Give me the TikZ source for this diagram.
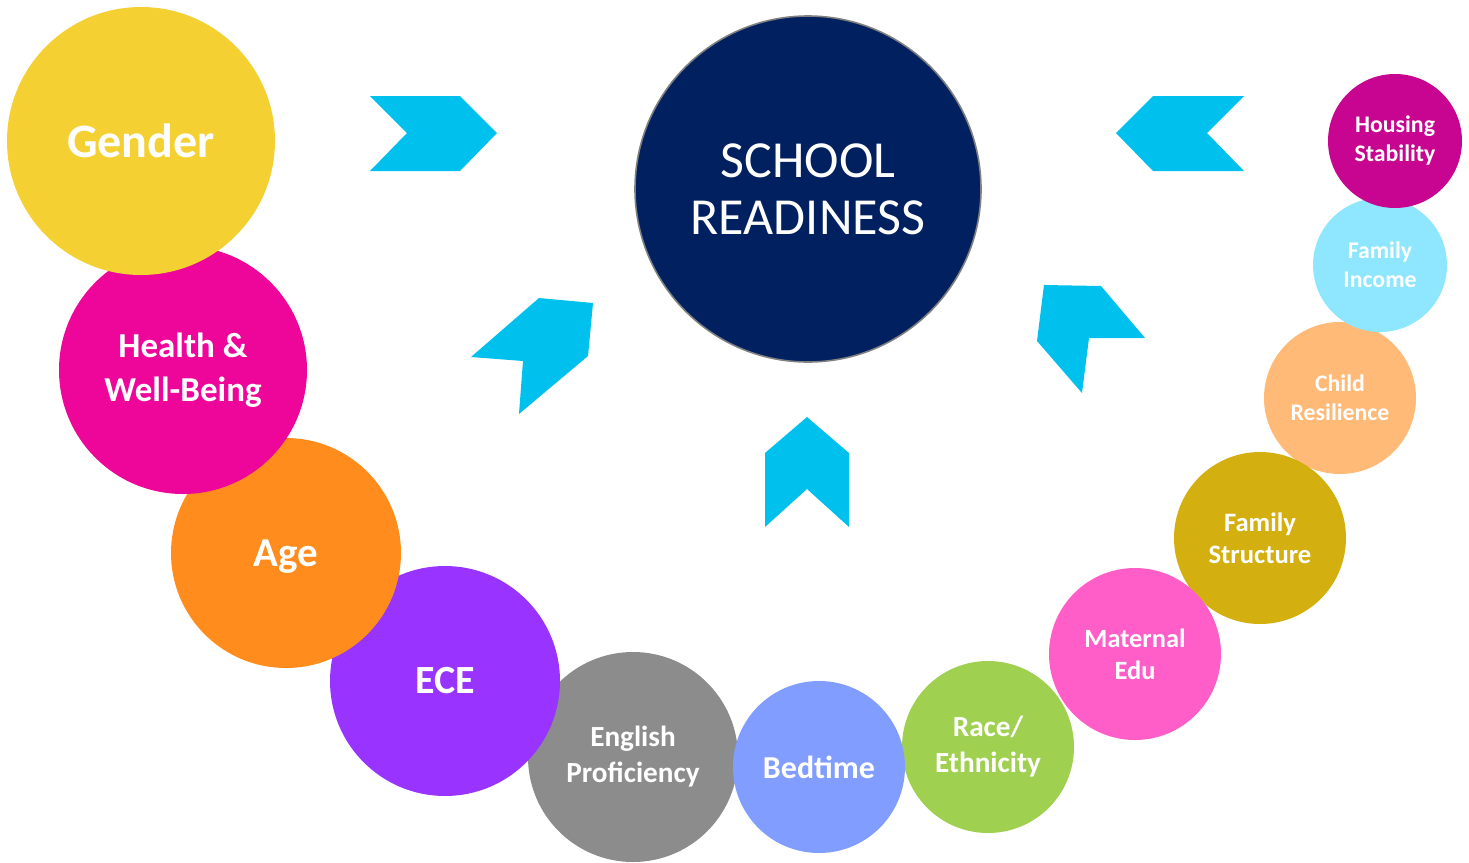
\documentclass[tikz,border=0pt]{standalone}
\usepackage{fontspec}
\setmainfont{Carlito}
\usepackage{xcolor}
\usepackage{tikz}
\usetikzlibrary{positioning}

\definecolor{navy}{HTML}{002060}
\definecolor{arrowblue}{HTML}{00C0EE}
\definecolor{cgender}{HTML}{F5D033}
\definecolor{chealth}{HTML}{EE0599}
\definecolor{cage}{HTML}{FF8C1C}
\definecolor{cece}{HTML}{9933FF}
\definecolor{cenglish}{HTML}{8C8C8C}
\definecolor{cbed}{HTML}{809DFF}
\definecolor{crace}{HTML}{A0D050}
\definecolor{cmaternal}{HTML}{FF5DC8}
\definecolor{cstructure}{HTML}{D4AF10}
\definecolor{cresilience}{HTML}{FFBA78}
\definecolor{cincome}{HTML}{8EE7FF}
\definecolor{chousing}{HTML}{C80590}

\begin{document}
\begin{tikzpicture}[
      x=0.5pt, y=-0.5pt,
      bubble/.style={
         circle,
         inner sep=0pt,
         text=white,
         align=center,
         font=\bfseries},
      goal/.style={
         circle,
         draw=gray,
         line width=0.8pt,
         fill=navy,
         text=white,
         inner sep=0pt,
         align=center,
         minimum size=173pt,
         font=\fontsize{26}{28.5}\selectfont},
      chevron/.style={fill=arrowblue}
      ]
      \useasboundingbox (0,0) rectangle (1469,863);

      % left side, lowest first
      \node[bubble, fill=cenglish, minimum size=105pt,
            font=\bfseries\fontsize{14.6}{18}\selectfont] (english) at (633,757) {English\\Proficiency};
      \node[bubble, fill=cece, minimum size=115pt,
            font=\bfseries\fontsize{20}{22}\selectfont] (ece) at (445,681) {ECE};
      \node[bubble, fill=cage, minimum size=115pt, text depth=0pt,
            font=\bfseries\fontsize{20.5}{22}\selectfont] (age) at (286,553) {Age};
      \node[bubble, fill=chealth, minimum size=124pt,
            font=\bfseries\fontsize{17.5}{22}\selectfont] (health) at (183,370) {Health \&\\Well-Being};
      \node[bubble, fill=cgender, minimum size=134pt,
            font=\bfseries\fontsize{24}{26}\selectfont] (gender) at (141,141) {Gender};

      % right side
      \node[bubble, fill=cresilience, minimum size=76pt,
            font=\bfseries\fontsize{11.9}{14.5}\selectfont] (resilience) at (1340,398) {Child\\Resilience};
      \node[bubble, fill=cstructure, minimum size=86pt,
            font=\bfseries\fontsize{13.3}{16}\selectfont] (structure) at (1260,538) {Family\\Structure};
      \node[bubble, fill=cmaternal, minimum size=86pt,
            font=\bfseries\fontsize{13.2}{16}\selectfont] (maternal) at (1135,654) {Maternal\\Edu};
      \node[bubble, fill=crace, minimum size=86pt,
            font=\bfseries\fontsize{14.6}{18}\selectfont] (race) at (988,747) {Race/\\Ethnicity};
      \node[bubble, fill=cbed, minimum size=86pt,
            font=\bfseries\fontsize{16}{18}\selectfont] (bedtime) at (819,767) {Bedtime};
      \node[bubble, fill=cincome, minimum size=67pt,
            font=\bfseries\fontsize{11.9}{14.5}\selectfont] (income) at (1380,265) {Family\\Income};
      \node[bubble, fill=chousing, minimum size=67pt,
            font=\bfseries\fontsize{11.9}{14.5}\selectfont] (housing) at (1395,141) {Housing\\Stability};

      \node[goal] (school) at (808,189) {SCHOOL\\READINESS};

      % chevrons pointing at the goal
      \fill[chevron] (370,96) -- (460,96) -- (497,133) -- (460,171) -- (370,171) -- (407,133) -- cycle;
      \fill[chevron] (1153,96) -- (1244,96) -- (1207,133) -- (1244,171) -- (1153,171) -- (1116,133) -- cycle;
      \fill[chevron] (807,417) -- (849,453) -- (849,527) -- (807,489) -- (765,527) -- (765,453) -- cycle;
      \fill[chevron] (539,298) -- (593,303) -- (588,356) -- (519,414) -- (523,361) -- (471,357) -- cycle;
      \fill[chevron] (1044,285) -- (1101,286) -- (1145,338) -- (1089,338) -- (1082,393) -- (1037,341) -- cycle;
    \end{tikzpicture}
\end{document}
